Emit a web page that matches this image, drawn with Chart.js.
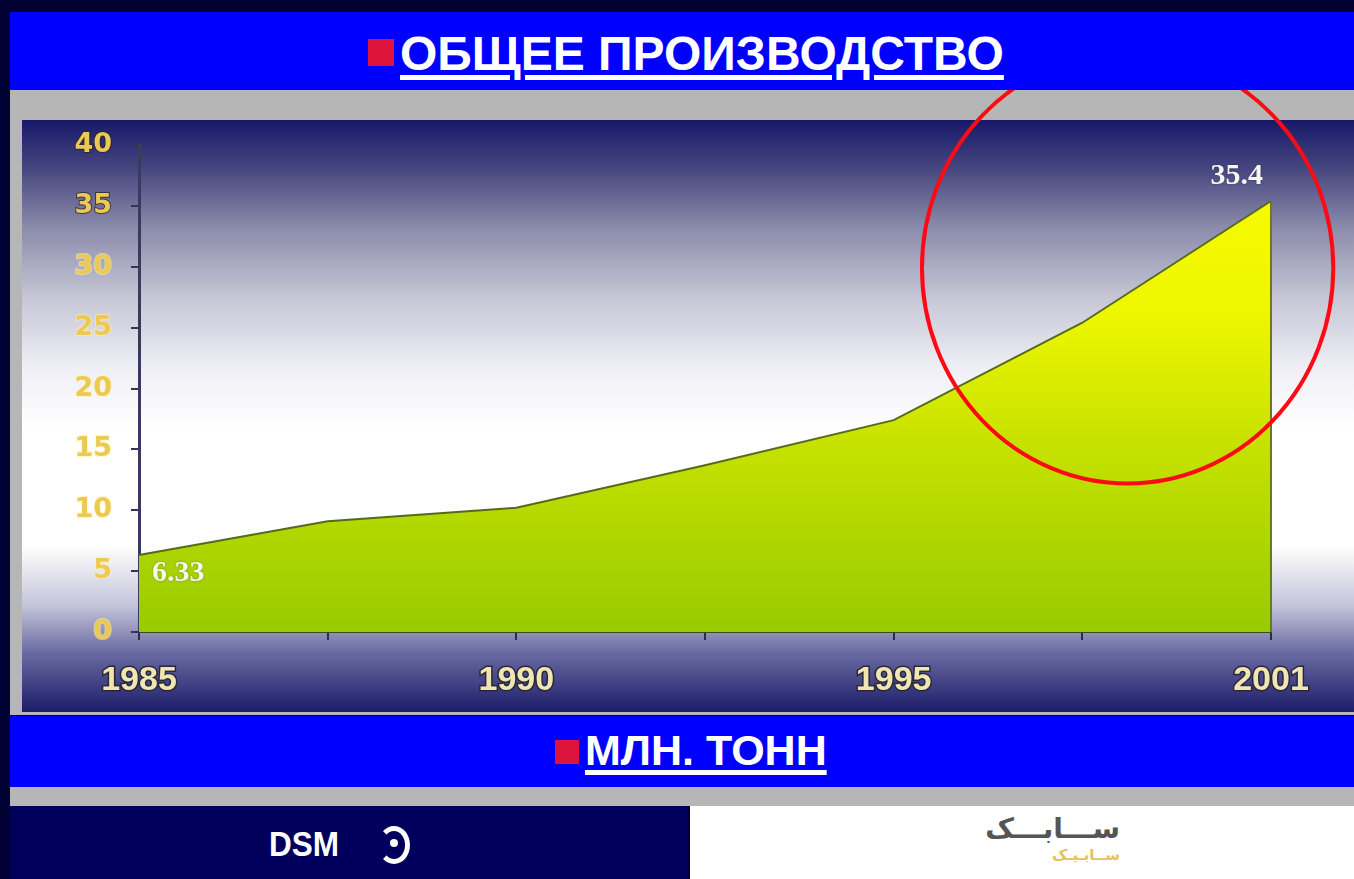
<!DOCTYPE html>
<html>
<head>
<meta charset="utf-8">
<script src="https://cdn.jsdelivr.net/npm/chart.js@4.4.0/dist/chart.umd.min.js"></script>
<style>
  html, body { margin: 0; padding: 0; }
  body { width: 1354px; height: 879px; overflow: hidden; background: #000033; position: relative;
         font-family: "Liberation Sans", Arial, sans-serif; }
  .band { position: absolute; left: 10px; width: 1344px; background: #0000ff; }
  .sq { position: absolute; background: #dc143c; }
  .ttl { position: absolute; color: #fff; font-weight: bold; white-space: nowrap;
         text-decoration: underline; text-decoration-thickness: 5px; text-underline-offset: 5px; }
  .gray { position: absolute; left: 10px; width: 1344px; background: #b6b6b6; }
  #wrap { position: absolute; left: 10px; top: 90px; width: 1344px; height: 625px; }
  .logoL { position: absolute; left: 10px; top: 806px; width: 678px; height: 73px; background: #00005c; }
  .logoR { position: absolute; left: 690px; top: 806px; width: 664px; height: 73px; background: #fff; }
</style>
</head>
<body>
<div class="band" style="top:12px;height:78px;">
  <div class="sq" style="left:358px;top:27px;width:26px;height:27px;"></div>
  <div class="ttl" style="left:390px;top:18px;font-size:48px;line-height:48px;">ОБЩЕЕ ПРОИЗВОДСТВО</div>
</div>
<div id="wrap"><canvas id="chart" width="1344" height="625"></canvas></div>
<div class="band" style="top:716px;height:71px;">
  <div class="sq" style="left:545px;top:24px;width:24px;height:24px;"></div>
  <div class="ttl" style="left:575px;top:13px;font-size:43px;line-height:43px;">МЛН. ТОНН</div>
</div>
<div class="gray" style="top:787px;height:19px;"></div>
<div class="logoL">
  <div style="position:absolute;left:259px;top:20px;color:#fff;font-weight:bold;font-size:35px;line-height:35px;transform:scaleX(0.9);transform-origin:left;">DSM</div>
  <div style="position:absolute;left:368px;top:20px;width:22px;height:28px;border:5px solid #fff;border-left-color:transparent;border-radius:50%;"></div>
  <div style="position:absolute;left:380px;top:33px;width:8px;height:8px;background:#fff;border-radius:50%;"></div>
</div>
<div class="logoR">
  <div style="position:absolute;left:270px;top:8px;width:160px;text-align:right;color:#555;font-family:'DejaVu Sans';font-size:28px;line-height:30px;font-weight:bold;">ســـابـــک</div>
  <div style="position:absolute;left:300px;top:40px;width:130px;text-align:right;color:#e6c25a;font-family:'DejaVu Sans';font-size:15px;line-height:18px;font-weight:bold;">ســابـیـک</div>
</div>

<script>
// data
const years = ['1985', '', '1990', '', '1995', '', '2001'];
const production = [6.33, 9.1, 10.2, 13.7, 17.4, 25.4, 35.4];
const valueLabels = ['6.33', '', '', '', '', '', '35.4'];
const yMin = 0, yMax = 40, yStep = 5;
// red ring, in data units (category index / value)
const ring = { x: 5.24, y: 29.9, rx: 1.09, ry: 17.7 };

const backdrop = {
  id: 'backdrop',
  beforeDraw(chart) {
    const ctx = chart.ctx;
    ctx.save();
    ctx.fillStyle = '#b6b6b6';
    ctx.fillRect(0, 0, chart.width, chart.height);
    const top = 30, h = 592;
    const g = ctx.createLinearGradient(0, top, 0, top + h);
    g.addColorStop(0, '#18186a');
    g.addColorStop(0.08, '#45457e');
    g.addColorStop(0.18, '#8a8aab');
    g.addColorStop(0.30, '#c6c6d6');
    g.addColorStop(0.42, '#efeff5');
    g.addColorStop(0.52, '#ffffff');
    g.addColorStop(0.72, '#ffffff');
    g.addColorStop(0.82, '#c4c4da');
    g.addColorStop(0.90, '#6a6aa2');
    g.addColorStop(1, '#1c1c6a');
    ctx.fillStyle = g;
    ctx.fillRect(12, top, chart.width - 12, h);
    ctx.restore();
  }
};

const marks = {
  id: 'marks',
  afterDatasetsDraw(chart) {
    const ctx = chart.ctx;
    const pts = chart.getDatasetMeta(0).data;
    const ys = chart.scales.y;
    ctx.save();
    // right edge of the area
    const last = pts[pts.length - 1];
    ctx.strokeStyle = '#6b7a1e';
    ctx.lineWidth = 2;
    ctx.beginPath();
    ctx.moveTo(last.x, last.y);
    ctx.lineTo(last.x, ys.getPixelForValue(yMin));
    ctx.stroke();
    // value labels
    ctx.font = 'bold 30px "Liberation Serif", serif';
    ctx.fillStyle = '#f6f6f2';
    ctx.textBaseline = 'middle';
    ctx.shadowColor = 'rgba(0,0,0,0.35)';
    ctx.shadowBlur = 2;
    valueLabels.forEach((t, i) => {
      if (!t) return;
      const p = pts[i];
      if (i === 0) {
        ctx.textAlign = 'left';
        ctx.fillText(t, p.x + 13, p.y + 18);
      } else {
        ctx.textAlign = 'right';
        ctx.fillText(t, p.x - 8, p.y - 25);
      }
    });
    ctx.restore();
  },
  afterDraw(chart) {
    const ctx = chart.ctx;
    const xs = chart.scales.x, ys = chart.scales.y;
    const cx = xs.getPixelForValue(ring.x);
    const cy = ys.getPixelForValue(ring.y);
    const rx = xs.getPixelForValue(ring.x + ring.rx) - cx;
    const ry = ys.getPixelForValue(ring.y - ring.ry) - cy;
    ctx.save();
    ctx.strokeStyle = '#ff0a14';
    ctx.lineWidth = 4;
    ctx.beginPath();
    ctx.ellipse(cx, cy, rx, ry, 0, 0, Math.PI * 2);
    ctx.stroke();
    ctx.restore();
  }
};

new Chart(document.getElementById('chart'), {
  type: 'line',
  data: {
    labels: years,
    datasets: [{
      data: production,
      fill: 'origin',
      tension: 0,
      pointRadius: 0,
      borderColor: '#566a1c',
      borderWidth: 2,
      backgroundColor(c) {
        const a = c.chart.chartArea;
        if (!a) return '#b0d800';
        const g = c.chart.ctx.createLinearGradient(0, a.top, 0, a.bottom);
        g.addColorStop(0, '#fbfc00');
        g.addColorStop(0.35, '#eef600');
        g.addColorStop(0.62, '#c6e100');
        g.addColorStop(1, '#98cb00');
        return g;
      }
    }]
  },
  options: {
    responsive: false,
    animation: false,
    layout: { padding: { left: 12, right: 83, top: 55, bottom: 0 } },
    plugins: { legend: { display: false }, tooltip: { enabled: false } },
    scales: {
      x: {
        offset: false,
        afterFit(s) { s.height = 83; },
        grid: { drawOnChartArea: false, drawTicks: true, tickLength: 8, color: '#2c2c44', lineWidth: 2 },
        border: { display: true, color: '#3c4a24', width: 2 },
        ticks: {
          autoSkip: false, maxRotation: 0, padding: 20,
          color: '#f0e6b4',
          textStrokeColor: '#2a2838', textStrokeWidth: 3,
          font: { family: '"Liberation Sans", Arial, sans-serif', size: 34, weight: 'bold' }
        }
      },
      y: {
        min: yMin, max: yMax,
        afterFit(s) { s.width = 117; },
        grid: { drawOnChartArea: false, drawTicks: true, tickLength: 8, color: '#34345a', lineWidth: 2 },
        border: { display: true, color: '#3a3a5c', width: 3 },
        ticks: {
          stepSize: yStep, padding: 19,
          color: '#ecc950',
          textStrokeColor(c) { return c.tick && c.tick.value >= 35 ? 'rgba(40,36,30,0.7)' : 'rgba(255,240,170,0.6)'; },
          textStrokeWidth: 2,
          font: { family: '"DejaVu Sans", sans-serif', size: 27, weight: 'bold' }
        }
      }
    }
  },
  plugins: [backdrop, marks]
});
</script>
</body>
</html>
